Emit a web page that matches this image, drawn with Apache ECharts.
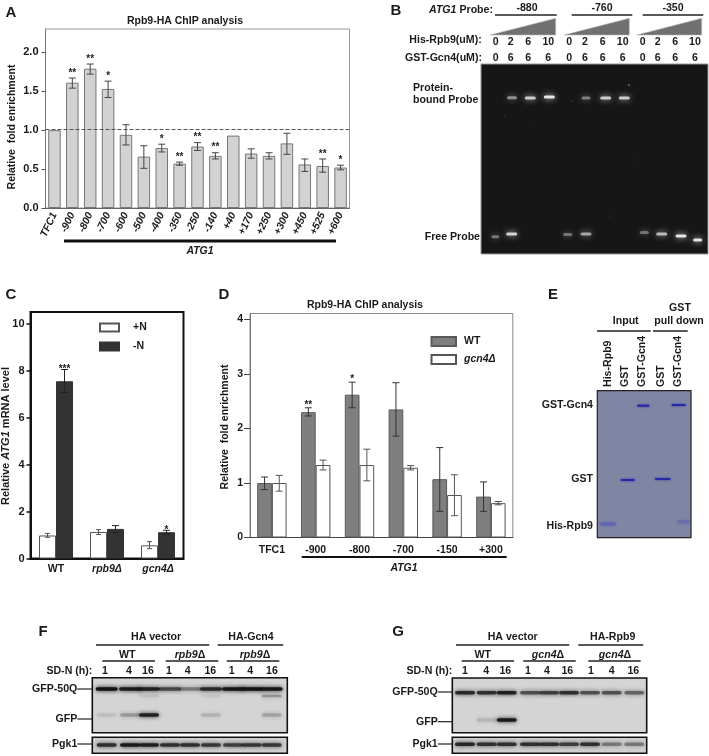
<!DOCTYPE html>
<html><head><meta charset="utf-8">
<style>html,body{margin:0;padding:0;background:#fff}#c{width:709px;height:756px}#c canvas{filter:blur(0.4px)}</style>
<script src="https://cdn.jsdelivr.net/npm/echarts@6/dist/echarts.min.js"></script>
</head><body><div id="c"></div>
<script>
// Panel A
const catsA=['TFC1','-900','-800','-700','-600','-500','-400','-350','-250','-140','+40','+170','+250','+300','+450','+525','+600'];
const valsA=[1.0,1.61,1.79,1.53,0.94,0.66,0.77,0.57,0.79,0.67,0.93,0.70,0.67,0.83,0.56,0.54,0.52];
const lowA=[null,1.54,1.72,1.42,0.81,0.51,0.72,0.55,0.74,0.63,null,0.64,0.63,0.69,0.47,0.46,0.49];
const highA=[null,1.67,1.85,1.63,1.07,0.80,0.82,0.59,0.84,0.71,null,0.76,0.71,0.96,0.63,0.63,0.55];
const starsA=['','**','**','*','','','*','**','**','**','','','','','','**','*'];
const ticksA=[0,0.5,1,1.5,2];
// Panel C
const catsC=['WT','rpb9Δ','gcn4Δ'];
const plusN=[0.98,1.13,0.56], plusNLow=[0.90,1.02,0.42], plusNHigh=[1.07,1.23,0.72];
const minusN=[7.55,1.26,1.12], minusNLow=[7.07,1.10,1.05], minusNHigh=[8.05,1.40,1.20];
const starsC=['***','','*'];
const ticksC=[0,2,4,6,8,10];
// Panel D
const catsD=['TFC1','-900','-800','-700','-150','+300'];
const wtD=[1.0,2.30,2.62,2.35,1.07,0.75], wtLow=[0.88,2.23,2.38,1.86,0.48,0.48], wtHigh=[1.11,2.38,2.85,2.84,1.65,1.02];
const gcnD=[1.0,1.33,1.33,1.28,0.78,0.63], gcnLow=[0.85,1.24,1.04,1.24,0.40,0.60], gcnHigh=[1.14,1.42,1.62,1.32,1.15,0.66];
const starsD=['','**','*','','',''];
const ticksD=[0,1,2,3,4];
// Gel B: lane position, migration, band width, intensity
const gelBBound=[[31,33.7,10,.5],[49.3,34,11,.8],[68.3,33,11,.95],[105,34,9,.42],[124.7,34,11,.8],[143.3,34,11,.8]];
const gelBFree=[[14.3,172.7,8,.38],[30.7,170,11,.85],[86.7,170.5,9,.38],[105,170,11,.6],[163.3,168.5,9,.38],[180.7,170,11,.7],[200,172,11,.95],[216.7,176,9,.95]];
const gelBSpecks=[[148,21,1.2,.7],[91,37,1,.3],[129,152,1,.25],[24,52,1,.2],[156,96,1,.2],[50,60,1,.15]];
// Gel E
const gelEStrong=[[45.9,15,12.3,.9],[81.5,14.3,14.3,.9],[30.5,89.3,14.3,.9],[65.5,88.3,15.7,.9]];
const gelEFaint=[[10.7,133.3,16,.32],[86.2,131,13,.2]];
// Gels F, G: lane positions and band intensities per lane
const lanesF=[14.4,37.7,56.7,77.7,97.7,118.7,140.7,159.4,179.4];
const f50Q=[1,.9,.85,.6,.35,.8,.95,1,.95];
const fGfp=[.07,.22,.85,0,0,.12,0,0,.18];
const fUpper=[0,0,.07,0,0,.05,0,0,.25];
const fPgk=[.75,.9,.85,.75,.75,.7,.65,.7,.7];
const lanesG=[12.7,34.4,54.4,77.7,96.7,116.7,137.7,159.4,182];
const g50Q=[.8,.75,.85,.55,.65,.75,.55,.55,.45];
const gGfp=[0,.1,.9,0,0,0,0,0,0];
const gPgk=[.8,.75,.75,.75,.75,.65,.75,.35,.35];
const timePoints=['1','4','16','1','4','16','1','4','16'];

const FF='"Liberation Sans",Arial,sans-serif';
const graphic=[];
function T(x,y,text,o={}){graphic.push({type:'text',x,y,rotation:o.rot||0,silent:true,style:{text,
  fontFamily:FF,fontWeight:o.weight||'bold',fontStyle:o.italic?'italic':'normal',fontSize:o.size||10.6,
  fill:o.fill||'#1a1a1a',align:o.align||'center',verticalAlign:'middle',rich:o.rich}});}
function L(x1,y1,x2,y2,w=1.2,c='#222'){graphic.push({type:'line',silent:true,shape:{x1,y1,x2,y2},style:{stroke:c,lineWidth:w}});}
const richB={i:{fontFamily:FF,fontWeight:'bold',fontStyle:'italic',fontSize:10.6,fill:'#1a1a1a'},
  n:{fontFamily:FF,fontWeight:'bold',fontSize:10.6,fill:'#1a1a1a'}};
const richY={i:{...richB.i,fontSize:11},n:{...richB.n,fontSize:11}};

// Panel letters
[['A',11,13],['B',396,11],['C',11,295],['D',224,295],['E',553,295],['F',43,632],['G',398,632]].forEach(p=>T(p[1],p[2],p[0],{size:15}));

function errors(name,xi,low,high,val,stars,off,color,cap,starGap){
  return {type:'custom',name,xAxisIndex:xi,yAxisIndex:xi,z:5,silent:true,
    data:low.map((l,i)=>[i,l,high[i]]),encode:{x:0,y:[1,2]},
    renderItem(p,api){
      const ch=[];const i=p.dataIndex;const l=low[i],h=high[i];
      if(l==null)return {type:'group',children:[]};
      const a=api.coord([i,l]),b=api.coord([i,h]);const x=a[0]+off;
      const st={stroke:color,lineWidth:1};
      ch.push({type:'line',shape:{x1:x,y1:a[1],x2:x,y2:b[1]},style:st});
      ch.push({type:'line',shape:{x1:x-cap,y1:a[1],x2:x+cap,y2:a[1]},style:st});
      ch.push({type:'line',shape:{x1:x-cap,y1:b[1],x2:x+cap,y2:b[1]},style:st});
      if(stars&&stars[i])ch.push({type:'text',x:x,y:b[1]-starGap,style:{text:stars[i],fontFamily:FF,fontWeight:'bold',fontSize:10,fill:'#222',align:'center',verticalAlign:'middle'}});
      return {type:'group',children:ch};
    }};
}
function gelSeries(ax,bands,color,h,blur){
  return {type:'custom',xAxisIndex:ax,yAxisIndex:ax,silent:true,z:3,data:bands,encode:{x:0,y:1},
    renderItem(p,api){
      const c=api.coord([api.value(0),api.value(1)]);const w=api.size([api.value(2),0])[0];const a=api.value(3);
      if(!a)return {type:'group',children:[]};
      return {type:'rect',shape:{x:c[0]-w/2,y:c[1]-h/2,width:w,height:h,r:h/2},
        style:{fill:color,opacity:a,shadowBlur:blur,shadowColor:color}};
    }};
}
function lanes(ls,vals,y,w){return ls.map((x,i)=>[x,y,w,vals[i]]);}

const gels=[
 {l:481,t:64,w:227,h:190,bg:'#161616',bc:'#999',bw:1},
 {l:597.3,t:390.7,w:93.7,h:147,bg:'#7f85a3',bc:'#222',bw:1.2},
 {l:92.3,t:677.7,w:195,h:55,bg:'#d4d4d4',bc:'#111',bw:1.6},
 {l:92.3,t:737.3,w:195,h:16,bg:'#d0d0d0',bc:'#111',bw:1.6},
 {l:452.3,t:678,w:194.4,h:54.7,bg:'#d4d4d4',bc:'#111',bw:1.6},
 {l:452.3,t:737.3,w:194.4,h:16,bg:'#d0d0d0',bc:'#111',bw:1.6}];

const grid=[
 {left:45.5,top:29,width:304,height:179,show:true,backgroundColor:'#fff',borderColor:'#999',borderWidth:1},
 {left:30.5,top:312,width:153,height:246.5,show:true,backgroundColor:'#fff',borderColor:'#111',borderWidth:2},
 {left:250,top:313.5,width:262.8,height:224,show:true,backgroundColor:'#fff',borderColor:'#888',borderWidth:1}
].concat(gels.map(g=>({left:g.l,top:g.t,width:g.w,height:g.h,show:true,backgroundColor:g.bg,borderColor:g.bc,borderWidth:g.bw})));

const lab=(size)=>({fontFamily:FF,fontWeight:'bold',fontSize:size,color:'#1a1a1a'});
const xAxis=[
 {gridIndex:0,type:'category',data:catsA,axisLine:{lineStyle:{color:'#666'}},axisTick:{alignWithLabel:true,length:3,lineStyle:{color:'#666'}},
  axisLabel:{...lab(10.4),fontStyle:'italic',rotate:65,margin:5,interval:0}},
 {gridIndex:1,type:'category',data:catsC,axisLine:{lineStyle:{color:'#111',width:2}},axisTick:{show:false},
  axisLabel:{...lab(10.5),interval:0,margin:5,formatter:v=>v==='WT'?'{n|WT}':'{i|'+v+'}',rich:{n:{fontFamily:FF,fontWeight:'bold',fontSize:10.5,color:'#1a1a1a'},i:{fontFamily:FF,fontWeight:'bold',fontStyle:'italic',fontSize:10.5,color:'#1a1a1a'}}}},
 {gridIndex:2,type:'category',data:catsD,axisLine:{lineStyle:{color:'#444'}},axisTick:{alignWithLabel:true,length:4,lineStyle:{color:'#444'}},
  axisLabel:{...lab(10.5),interval:0,margin:7}}
].concat(gels.map((g,i)=>({gridIndex:i+3,type:'value',min:0,max:g.w,show:false})));
const yAxis=[
 {gridIndex:0,type:'value',min:0,max:2.3,interval:.5,splitLine:{show:false},axisLine:{show:true,lineStyle:{color:'#777'}},
  axisTick:{show:true,length:4,customValues:ticksA,lineStyle:{color:'#555'}},axisLabel:{...lab(11),margin:7,customValues:ticksA,formatter:v=>v.toFixed(1)}},
 {gridIndex:1,type:'value',min:0,max:10.5,interval:2,splitLine:{show:false},axisLine:{show:true,lineStyle:{color:'#111',width:2}},
  axisTick:{show:true,length:4,customValues:ticksC,lineStyle:{color:'#111',width:1.5}},axisLabel:{...lab(11),margin:6,customValues:ticksC}},
 {gridIndex:2,type:'value',min:0,max:4.11,interval:1,splitLine:{show:false},axisLine:{show:true,lineStyle:{color:'#777'}},
  axisTick:{show:true,length:6,customValues:ticksD,lineStyle:{color:'#444'}},axisLabel:{...lab(10.5),margin:7,customValues:ticksD}}
].concat(gels.map((g,i)=>({gridIndex:i+3,type:'value',min:0,max:g.h,inverse:true,show:false})));

const series=[
 {type:'bar',name:'ChIP',xAxisIndex:0,yAxisIndex:0,data:valsA,barWidth:12.5,itemStyle:{color:'#d2d2d2',borderColor:'#777',borderWidth:1},
  markLine:{silent:true,symbol:'none',label:{show:false},animation:false,lineStyle:{color:'#555',type:'dashed',width:1},data:[{yAxis:1.01}]}},
 errors('eA',0,lowA,highA,valsA,starsA,0,'#444',3.5,5),
 {type:'bar',name:'+N',xAxisIndex:1,yAxisIndex:1,data:plusN,barWidth:17,barGap:0,itemStyle:{color:'#fff',borderColor:'#555',borderWidth:1}},
 {type:'bar',name:'-N',xAxisIndex:1,yAxisIndex:1,data:minusN,barWidth:17,barGap:0,itemStyle:{color:'#333',borderColor:'#333',borderWidth:1}},
 errors('eC1',1,plusNLow,plusNHigh,plusN,null,-8.5,'#555',2.5,5),
 errors('eC2',1,minusNLow,minusNHigh,minusN,starsC,8.5,'#222',3.5,0),
 {type:'bar',name:'WT',xAxisIndex:2,yAxisIndex:2,data:wtD,barWidth:14.7,barGap:0,itemStyle:{color:'#7f7f7f',borderColor:'#5a5a5a',borderWidth:1}},
 {type:'bar',name:'gcn4Δ',xAxisIndex:2,yAxisIndex:2,data:gcnD,barWidth:14.7,barGap:0,itemStyle:{color:'#fff',borderColor:'#555',borderWidth:1}},
 errors('eD1',2,wtLow,wtHigh,wtD,starsD,-7.35,'#333',3.5,3),
 errors('eD2',2,gcnLow,gcnHigh,gcnD,null,7.35,'#555',3.5,3),
 gelSeries(3,gelBBound,'#efefef',3,6),
 gelSeries(3,gelBFree,'#efefef',3,6),
 gelSeries(3,gelBSpecks,'#dddddd',1,1),
 gelSeries(4,gelEStrong,'#2526a8',2,2),
 gelSeries(4,gelEFaint,'#3a3dc0',3.5,3),
 gelSeries(5,lanes(lanesF,f50Q,11.3,22),'#111',3.5,4),
 gelSeries(5,lanes(lanesF,fGfp,37.3,20),'#111',3.5,4),
 gelSeries(5,lanes(lanesF,fUpper,18.3,20),'#111',2.5,4),
 gelSeries(6,lanes(lanesF,fPgk,7.7,20),'#111',3.5,4),
 gelSeries(7,lanes(lanesG,g50Q,14.7,20),'#111',3.5,4),
 gelSeries(7,lanes(lanesG,gGfp,42,20),'#111',3.5,4),
 gelSeries(8,lanes(lanesG,gPgk,7,20),'#111',3.5,4)
];

// Panel A text
T(185,21,'Rpb9-HA ChIP analysis',{size:10.5});
T(12,127,'Relative  fold enrichment',{size:10.5,rot:Math.PI/2});
L(64,241,336,241,3,'#111');
T(200,251,'ATG1',{italic:true,size:10.5});
// Panel C text
T(6,436,'{n|Relative }{i|ATG1}{n| mRNA level}',{rot:Math.PI/2,rich:richY});
// Panel D text
T(365,305,'Rpb9-HA ChIP analysis',{size:10.5});
T(225,427,'Relative  fold enrichment',{size:10.5,rot:Math.PI/2});
L(301.7,557,506.7,557,2,'#111');
T(404,568,'ATG1',{italic:true,size:10.5});
// Panel B text
T(493,10,'{i|ATG1}{n| Probe:}',{align:'right',rich:richB});
[['-880',527,495,556.7,490,555.7],['-760',602,571.7,632.3,564,629.3],['-350',673,642.7,703.3,636.7,701.7]].forEach(p=>{
  T(p[1],8,p[0],{});L(p[2],15,p[3],15,1.3,'#222');
  graphic.push({type:'polygon',silent:true,shape:{points:[[p[4],35],[p[5],18.3],[p[5],35]]},style:{fill:'#707070',stroke:'#bbb',lineWidth:.6}});
});
T(481.7,40,'His-Rpb9(uM):',{align:'right'});
T(482,58,'GST-Gcn4(uM):',{align:'right'});
const xsB=[495.7,510.7,528.3,548.3,569.3,585,602.7,622.7,642.7,657.7,675.3,695];
['0','2','6','10','0','2','6','10','0','2','6','10'].forEach((v,i)=>T(xsB[i],42,v,{}));
['0','6','6','6','0','6','6','6','0','6','6','6'].forEach((v,i)=>T(xsB[i],58,v,{}));
T(413,88,'Protein-',{align:'left'});
T(413,100,'bound Probe',{align:'left'});
T(480,236.7,'Free Probe',{align:'right'});
// Panel E text
T(625.7,321.5,'Input',{});
T(680,308,'GST',{});
T(679,321,'pull down',{});
L(597,331,650.7,331,1.5,'#222');
L(653,331,687.7,331,1.5,'#222');
[['His-Rpb9',607.7],['GST',625],['GST-Gcn4',642.3],['GST',660.7],['GST-Gcn4',678.3]].forEach(p=>T(p[1],387,p[0],{rot:Math.PI/2,align:'left'}));
T(593,405,'GST-Gcn4',{align:'right'});
T(593,479,'GST',{align:'right'});
T(593,526,'His-Rpb9',{align:'right'});
// Panels F, G text
function blot(o){
  T(o.x1,637.3,'HA vector',{}); T(o.x2,637.3,o.name,{});
  L(o.l1[0],645,o.l1[1],645,1.3); L(o.l2[0],645,o.l2[1],645,1.3);
  T(o.wt,655,'WT',{}); L(o.s1[0],661,o.s1[1],661,1.3);
  T(o.m1,655,'{i|'+o.mut+'}{n|Δ}',{rich:richB}); L(o.s2[0],661,o.s2[1],661,1.3);
  T(o.m2,655,'{i|'+o.mut+'}{n|Δ}',{rich:richB}); L(o.s3[0],661,o.s3[1],661,1.3);
  T(o.gl,671,'SD-N (h):',{align:'right'});
  timePoints.forEach((t,i)=>T(o.lab[i],671,t,{}));
  T(o.r,o.y50,'GFP-50Q',{align:'right'}); L(o.r,o.y50,o.gl,o.y50,1.2);
  T(o.r,o.yG,'GFP',{align:'right'}); L(o.r,o.yG,o.gl,o.yG,1.2);
  T(o.r,o.yP,'Pgk1',{align:'right'}); L(o.r,o.yP,o.gl,o.yP,1.2);
}
blot({x1:156,x2:251,name:'HA-Gcn4',l1:[96,209.3],l2:[217.7,283.3],wt:127.3,s1:[102.3,155],m1:190,s2:[165.7,218.3],m2:255,s3:[226.7,279.3],mut:'rpb9',
  gl:92.3,lab:[105,129,148,169,187.7,210.3,231.7,250.3,272],r:77.3,y50:689,yG:719,yP:744});
blot({x1:512.7,x2:612.7,name:'HA-Rpb9',l1:[456,569.3],l2:[578.3,643.3],wt:482.7,s1:[461.7,514],m1:548,s2:[523.3,575.7],m2:615,s3:[588.3,640.7],mut:'gcn4',
  gl:452.3,lab:[465,486.3,505.3,528,547,567.3,591,611.7,633.3],r:437.7,y50:692,yG:721.7,yP:744});

const legend=[
 {data:['+N','-N'],orient:'vertical',left:99,top:322,padding:0,icon:'rect',itemWidth:19,itemHeight:8,itemGap:8,selectedMode:false,textStyle:{...lab(10.5),padding:[0,0,0,9]}},
 {data:[{name:'WT'},{name:'gcn4Δ',textStyle:{fontStyle:'italic'}}],orient:'vertical',left:430.5,top:336,padding:0,icon:'rect',itemWidth:24.5,itemHeight:9,itemGap:7,selectedMode:false,textStyle:{...lab(10.5),padding:[0,0,0,3]}}
];

const chart=echarts.init(document.getElementById('c'),null,{renderer:'canvas',width:709,height:756});
chart.setOption({animation:false,backgroundColor:'#fff',grid,xAxis,yAxis,series,legend,graphic});
</script></body></html>
